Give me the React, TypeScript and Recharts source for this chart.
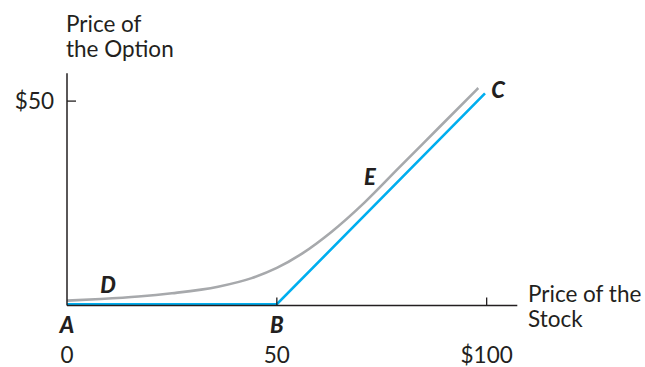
import React from 'react';
import { LineChart, Line, XAxis, YAxis, ReferenceDot } from 'recharts';

// option value curve (gray) vs. intrinsic value (blue)
const curveStock = [0, 8, 17, 25, 36, 44, 50, 56, 63, 71, 79, 89, 98];
const curveOption = [1.2, 1.6, 2.2, 3.0, 4.6, 6.7, 9.2, 12.7, 18.0, 25.3, 33.6, 43.9, 53.2];
const floorStock = [0, 50, 99.6];
const floorOption = [0.3, 0.3, 51.9];

const xTicks = [0, 50, 100];
const xTickLabels = ['0', '50', '$100'];
const xTickLetters = ['A', 'B', ''];
const yTicks = [50];
const yTickLabels = ['$50'];

const pointLetters = ['C', 'D', 'E'];
const pointStock = [102.7, 9.8, 72.2];
const pointOption = [52.7, 5.0, 31.2];

const curveData = curveStock.map((x, i) => ({ x, y: curveOption[i] }));
const floorData = floorStock.map((x, i) => ({ x, y: floorOption[i] }));

const FONT = 'Lato, "Open Sans", sans-serif';
const INK = '#231f20';
const TEXT_SIZE = 22.5;

const XTick = (props: any) => {
  const { x, y, payload } = props;
  const i = xTicks.indexOf(payload.value);
  return (
    <g>
      {i > 0 && <line x1={x} x2={x} y1={y} y2={y - 8} stroke={INK} strokeWidth={1.3} />}
      <text x={x} y={y + 27.5} textAnchor="middle" fontFamily={FONT} fontSize={22}
        fontWeight={900} fontStyle="italic" fill={INK}>{xTickLetters[i]}</text>
      <text x={x} y={y + 57} textAnchor="middle" fontFamily={FONT} fontSize={TEXT_SIZE} fill={INK}>
        {xTickLabels[i]}
      </text>
    </g>
  );
};

const YTick = (props: any) => {
  const { x, y, payload } = props;
  const i = yTicks.indexOf(payload.value);
  return (
    <g>
      <line x1={x} x2={x + 9} y1={y} y2={y} stroke={INK} strokeWidth={1.3} />
      <text x={x - 13} y={y + 8} textAnchor="end" fontFamily={FONT} fontSize={TEXT_SIZE} fill={INK}>
        {yTickLabels[i]}
      </text>
    </g>
  );
};

const letterLabel = (letter: string) => (props: any) => {
  const { viewBox } = props;
  return (
    <text x={viewBox.x} y={viewBox.y + 7.5} textAnchor="middle" fontFamily={FONT} fontSize={22}
      fontWeight={900} fontStyle="italic" fill={INK}>{letter}</text>
  );
};

const titleStyle: React.CSSProperties = {
  position: 'absolute',
  fontFamily: FONT,
  fontSize: TEXT_SIZE,
  lineHeight: '25px',
  color: INK,
  margin: 0,
  whiteSpace: 'nowrap',
};

export default function App() {
  return (
    <div style={{ position: 'absolute', left: 0, top: 0, width: 645, height: 367, background: '#fff' }}>
      <LineChart width={645} height={367} margin={{ top: 73.3, right: 127.7, bottom: 1.5, left: 7 }}>
        <XAxis type="number" dataKey="x" domain={[0, 107.3]} ticks={xTicks} interval={0}
          allowDataOverflow height={60} tickSize={0} tickMargin={0} tickLine={false}
          axisLine={{ stroke: INK, strokeWidth: 1.5 }} tick={<XTick />} />
        <YAxis type="number" dataKey="y" domain={[0, 56.8]} ticks={yTicks} interval={0}
          allowDataOverflow width={60} tickSize={0} tickMargin={0} tickLine={false}
          axisLine={{ stroke: INK, strokeWidth: 1.5 }} tick={<YTick />} />
        <Line data={curveData} dataKey="y" type="monotone" stroke="#a7a9ac" strokeWidth={2.6}
          dot={false} isAnimationActive={false} />
        <Line data={floorData} dataKey="y" type="linear" stroke="#00aeef" strokeWidth={2.6}
          dot={false} isAnimationActive={false} />
        {pointLetters.map((letter, i) => (
          <ReferenceDot key={letter} x={pointStock[i]} y={pointOption[i]} r={0} fill="none"
            stroke="none" ifOverflow="visible" label={letterLabel(letter)} />
        ))}
      </LineChart>
      <div style={{ ...titleStyle, left: 66, top: 10.5 }}>
        Price of<br />the Option
      </div>
      <div style={{ ...titleStyle, left: 528, top: 280.5 }}>
        Price of the<br />Stock
      </div>
    </div>
  );
}
